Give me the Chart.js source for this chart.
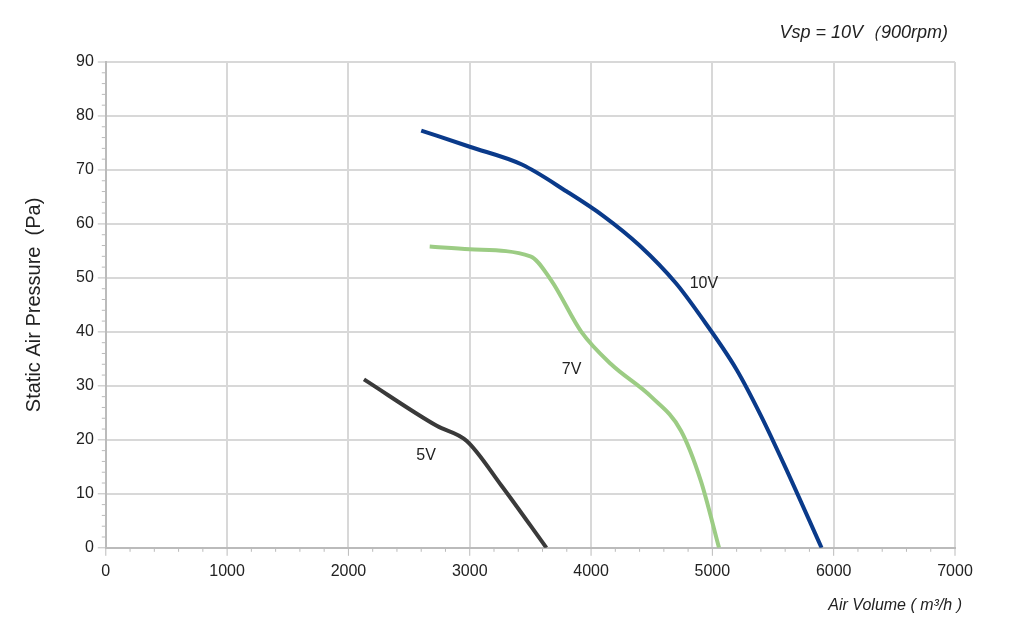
<!DOCTYPE html>
<html><head><meta charset="utf-8">
<script src="https://cdn.jsdelivr.net/npm/chart.js@4"></script>
<style>body{margin:0;background:#fff}#w{width:1024px;height:640px;position:relative}</style>
</head><body><div id="w"><canvas id="c" width="1024" height="640"></canvas></div>
<script>
const xTicks=[0,1000,2000,3000,4000,5000,6000,7000];
const yTicks=[0,10,20,30,40,50,60,70,80,90];
const s10x=[2600,3000,3430,3800,4100,4400,4700,4900,5200,5400,5600,5900];
const s10y=[77.3,74.3,71,66,61.5,56,49,43,33,24.5,15,0];
const s7x=[2670,3000,3500,3673,3920,4166,4495,4741,4905,5055];
const s7y=[55.8,55.3,54,49.5,40,34,28,21.7,12.4,0];
const s5x=[2128,2728,2975,3262,3632];
const s5y=[31.2,22.6,19.8,11.5,0];
const labels=[["10V",4930,49],["7V",3840,33],["5V",2640,17]];
const pts=(xs,ys)=>xs.map((x,i)=>({x,y:ys[i]}));
const ds=(d,c)=>({data:d,borderColor:c,borderWidth:4,pointRadius:0,showLine:true,cubicInterpolationMode:'monotone',fill:false});
const deco={id:'deco',afterDraw(ch){const {ctx,scales:{x,y}}=ch;ctx.save();
ctx.fillStyle='#222';ctx.font='16px "Liberation Sans",Arial';ctx.textAlign='center';ctx.textBaseline='middle';
labels.forEach(l=>ctx.fillText(l[0],x.getPixelForValue(l[1]),y.getPixelForValue(l[2])));
ctx.font='italic 18px "Liberation Sans",Arial';ctx.textAlign='right';ctx.fillText('Vsp = 10V（900rpm)',948,33);
ctx.font='italic 16px "Liberation Sans",Arial';ctx.fillText('Air Volume ( m³/h )',962,606);
ctx.strokeStyle='#bbb';ctx.lineWidth=1;
for(let v=0;v<=7000;v+=200){const px=x.getPixelForValue(v);ctx.beginPath();ctx.moveTo(px,y.bottom);ctx.lineTo(px,y.bottom+(v%1000?4:8));ctx.stroke();}
for(let v=0;v<=90;v+=2){const py=y.getPixelForValue(v);ctx.beginPath();ctx.moveTo(x.left-(v%10?4:8),py);ctx.lineTo(x.left,py);ctx.stroke();}
ctx.restore();}};
const f={size:16,family:'"Liberation Sans",Arial'};
new Chart(document.getElementById('c'),{type:'scatter',
data:{datasets:[ds(pts(s10x,s10y),'#0a3a8a'),ds(pts(s7x,s7y),'#9ccc84'),ds(pts(s5x,s5y),'#3a3a3a')]},
options:{responsive:false,animation:false,layout:{padding:{left:18,right:69,top:62,bottom:45}},
plugins:{legend:{display:false},tooltip:{enabled:false}},
scales:{x:{type:'linear',min:0,max:7000,afterBuildTicks:a=>{a.ticks=xTicks.map(v=>({value:v}))},
grid:{color:'#d8d8d8',lineWidth:2,tickLength:0},border:{color:'#bbb',width:2},ticks:{color:'#222',padding:14,font:f,callback:v=>String(v)}},
y:{min:0,max:90,afterBuildTicks:a=>{a.ticks=yTicks.map(v=>({value:v}))},
grid:{color:'#d8d8d8',lineWidth:2,tickLength:0},border:{color:'#bbb',width:2},ticks:{color:'#222',padding:12,font:f,callback:v=>String(v)},
title:{display:true,text:'Static Air Pressure  (Pa)',color:'#222',font:{size:20,family:'"Liberation Sans",Arial'},padding:{bottom:18}}}}},
plugins:[deco]});
</script></body></html>
